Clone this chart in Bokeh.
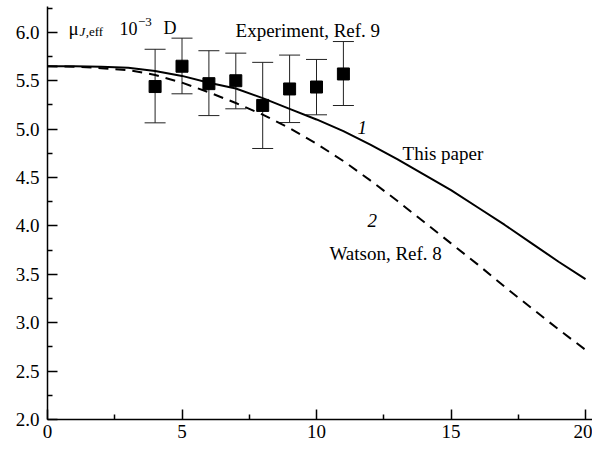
from bokeh.plotting import figure
from bokeh.models import (Range1d, FixedTicker, ColumnDataSource, Whisker, TeeHead, Label)
from bokeh.embed import file_html
from bokeh.resources import INLINE

# ---- data ----
x_curve = [0, 1, 2, 3, 4, 5, 6, 7, 8, 9, 10, 11, 12, 13, 14, 15, 16, 17, 18, 19, 20]
this_paper = [5.65, 5.65, 5.645, 5.635, 5.60, 5.55, 5.48, 5.42, 5.32, 5.21, 5.10,
              4.98, 4.84, 4.69, 4.53, 4.37, 4.19, 4.01, 3.82, 3.63, 3.45]
watson = [5.65, 5.645, 5.63, 5.61, 5.56, 5.48, 5.38, 5.27, 5.15, 5.01, 4.85,
          4.67, 4.47, 4.26, 4.04, 3.82, 3.60, 3.37, 3.15, 2.93, 2.72]

exp_x = [4, 5, 6, 7, 8, 9, 10, 11]
exp_y = [5.44, 5.65, 5.47, 5.50, 5.245, 5.415, 5.435, 5.57]
exp_upper = [5.825, 5.94, 5.81, 5.785, 5.69, 5.765, 5.72, 5.905]
exp_lower = [5.065, 5.365, 5.14, 5.21, 4.80, 5.068, 5.148, 5.244]

x_ticks = [0, 5, 10, 15, 20]
x_minor = [2.5, 7.5, 12.5, 17.5]
x_tick_labels = ["0", "5", "10", "15", "20"]
y_ticks = [2.0, 2.5, 3.0, 3.5, 4.0, 4.5, 5.0, 5.5, 6.0]
y_minor = [2.25, 2.75, 3.25, 3.75, 4.25, 4.75, 5.25, 5.75, 6.25]
y_tick_labels = ["2.0", "2.5", "3.0", "3.5", "4.0", "4.5", "5.0", "5.5", "6.0"]

# ---- figure ----
p = figure(width=592, height=444, output_backend="svg", toolbar_location=None,
           x_range=Range1d(0, 20.26), y_range=Range1d(2.0, 6.267),
           min_border_left=47, min_border_right=0, min_border_top=6, min_border_bottom=25)
p.outline_line_color = None
p.xgrid.visible = False
p.ygrid.visible = False
p.background_fill_color = "white"
p.border_fill_color = "white"

p.xaxis.ticker = FixedTicker(ticks=x_ticks, minor_ticks=x_minor)
p.yaxis.ticker = FixedTicker(ticks=y_ticks, minor_ticks=y_minor)
p.xaxis.major_label_overrides = {t: l for t, l in zip(x_ticks, x_tick_labels)}
p.yaxis.major_label_overrides = {t: l for t, l in zip(y_ticks, y_tick_labels)}

for ax in (p.xaxis[0], p.yaxis[0]):
    ax.axis_line_width = 1.5
    ax.axis_line_color = "black"
    ax.major_tick_in = 10
    ax.major_tick_out = 0
    ax.minor_tick_in = 5
    ax.minor_tick_out = 0
    ax.major_tick_line_width = 1.5
    ax.minor_tick_line_width = 1.5
    ax.major_tick_line_color = "black"
    ax.minor_tick_line_color = "black"
    ax.major_label_text_font = "Liberation Serif, serif"
    ax.major_label_text_font_size = "19px"
    ax.major_label_text_font_style = "normal"
    ax.major_label_text_color = "black"
p.xaxis.major_label_standoff = 5
p.yaxis.major_label_standoff = 8

# curves
p.line(x_curve, this_paper, line_color="black", line_width=2)
p.line(x_curve, watson, line_color="black", line_width=2, line_dash="10 7")

# experiment with error bars
src = ColumnDataSource(dict(x=exp_x, y=exp_y, upper=exp_upper, lower=exp_lower))
wh = Whisker(source=src, base="x", upper="upper", lower="lower",
             line_color="#222222", line_width=1,
             upper_head=TeeHead(size=21, line_color="#222222", line_width=1),
             lower_head=TeeHead(size=21, line_color="#222222", line_width=1))
p.add_layout(wh)
p.scatter("x", "y", source=src, marker="square", size=12, color="black")

# labels
def lab(x, y, text, size="19px", font="Liberation Serif", style="normal"):
    p.add_layout(Label(x=x, y=y, text=text, text_font=font, text_font_size=size,
                       text_font_style=style, text_color="black",
                       text_baseline="alphabetic", text_align="left"))

lab(6.99, 6.02, "Experiment, Ref. 9")
lab(13.2, 4.75, "This paper")
lab(10.48, 3.715, "Watson, Ref. 8")
lab(11.52, 5.017, "1", style="italic")
lab(11.9, 4.056, "2", style="italic")

lab(0.78, 6.04, "μ", size="19px")
lab(1.19, 6.01, "J", size="13px", style="italic")
lab(1.42, 6.01, ",eff", size="13px")
lab(2.68, 6.04, "10", size="18px")
lab(3.36, 6.11, "−3", size="13px")
lab(4.31, 6.04, "D", size="18px")

open("out.html", "w").write(file_html(p, INLINE))
